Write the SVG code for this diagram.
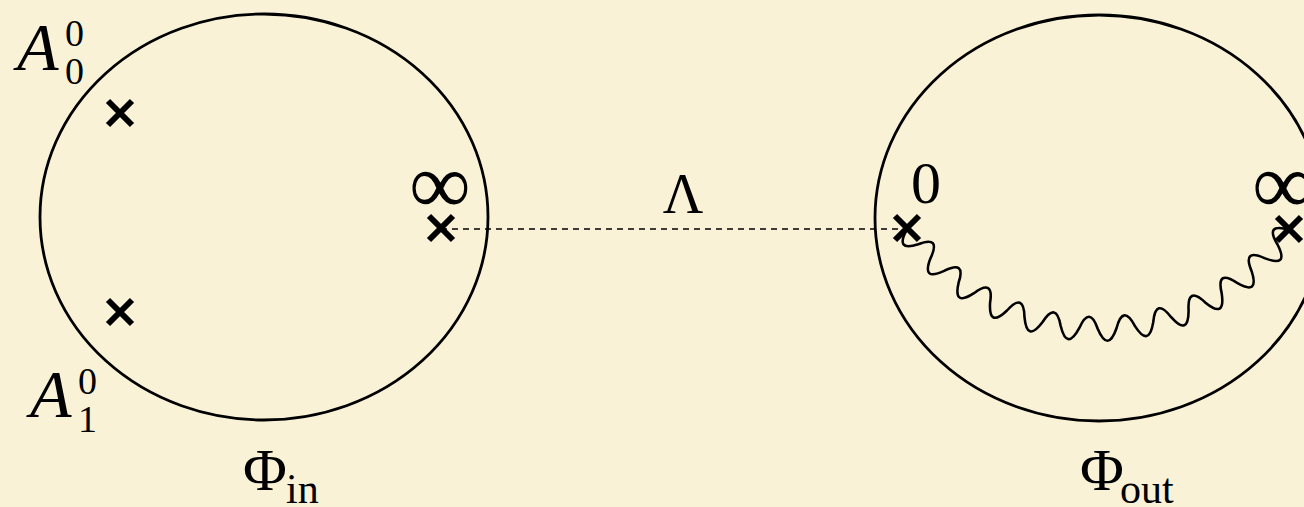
<svg xmlns="http://www.w3.org/2000/svg" width="1304" height="507" viewBox="0 0 1304 507">
<style>
.bg{fill:#FAF2D7}
.ell{fill:none;stroke:#000;stroke-width:2.8}
.x{stroke:#000;stroke-width:6;stroke-linecap:butt;fill:none}
.dash{stroke:#000;stroke-width:1.6;stroke-dasharray:6 5;fill:none}
.wave{stroke:#000;stroke-width:2.6;fill:none;stroke-linejoin:round}
.t{font-family:'Liberation Serif','DejaVu Serif',serif;fill:#000}
.it{font-style:italic}
</style>
<defs>
<path id="cross" class="x" d="M-12,-12 L12,12 M-12,12 L12,-12"/>
</defs>
<rect class="bg" x="0" y="0" width="1304" height="507"/>
<g id="connectors">
<line class="dash" x1="441" y1="229" x2="906" y2="229"/>
<path class="wave" d="M906.9,229.3 Q894.5,252.0 918.2,244.2 Q941.2,235.3 930.6,258.1 Q921.2,281.7 944.1,270.9 Q966.3,259.8 958.6,282.7 Q952.9,307.0 974.0,293.2 Q994.0,278.4 990.1,302.5 Q988.4,328.4 1007.0,310.5 Q1023.9,291.7 1024.5,317.1 Q1026.8,343.0 1042.4,322.3 Q1056.3,300.8 1060.7,326.0 Q1066.9,351.2 1079.2,328.2 Q1089.6,304.8 1097.8,329.0 Q1108.0,352.8 1116.5,328.3 Q1122.9,303.5 1135.0,326.1 Q1148.9,347.9 1153.2,322.4 Q1155.6,296.9 1171.2,317.2 Q1188.4,336.7 1188.6,310.7 Q1187.0,285.2 1205.5,302.7 Q1225.6,319.1 1221.7,293.4 Q1215.9,268.6 1237.1,282.9 Q1259.6,295.9 1251.6,271.2 Q1241.9,247.6 1265.1,258.4 Q1289.4,267.6 1277.5,244.5 Q1264.2,222.7 1288.9,229.6"/>
</g>
<g id="phi-in">
<ellipse class="ell" cx="264" cy="217" rx="224" ry="203"/>
<use href="#cross" x="120" y="113"/>
<use href="#cross" x="120" y="312"/>
<use href="#cross" x="441" y="228"/>
<text class="t" x="440" y="213" font-size="86" text-anchor="middle">∞</text>
<text class="t it" x="17" y="70" font-size="68">A</text>
<text class="t" x="65" y="46" font-size="38">0</text>
<text class="t" x="65" y="84" font-size="38">0</text>
<text class="t it" x="30" y="417" font-size="68">A</text>
<text class="t" x="78" y="394" font-size="38">0</text>
<text class="t" x="78" y="432" font-size="38">1</text>
<text class="t" x="243" y="490" font-size="60">Φ</text>
<text class="t" x="286" y="503" font-size="42">in</text>
</g>
<g id="lambda">
<text class="t" x="683" y="213" font-size="56" text-anchor="middle">Λ</text>
</g>
<g id="phi-out">
<ellipse class="ell" cx="1099" cy="218" rx="224" ry="203"/>
<use href="#cross" x="907" y="228"/>
<use href="#cross" x="1289" y="229"/>
<text class="t" x="926" y="203" font-size="60" text-anchor="middle">0</text>
<text class="t" x="1283" y="213" font-size="86" text-anchor="middle">∞</text>
<text class="t" x="1080" y="490" font-size="60">Φ</text>
<text class="t" x="1120" y="503" font-size="42">out</text>
</g>
</svg>
